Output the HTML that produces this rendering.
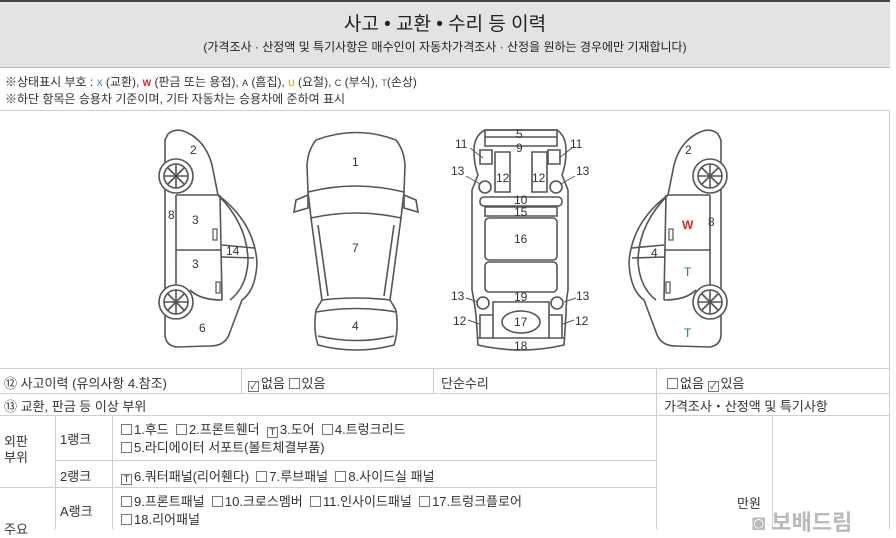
<!DOCTYPE html>
<html><head><meta charset="utf-8"><style>
*{margin:0;padding:0;box-sizing:border-box}
body{width:896px;height:529px;overflow:hidden;background:#fff;font-family:"Liberation Sans","Noto Sans CJK KR",sans-serif;color:#333;position:relative}
.a{position:absolute;white-space:nowrap}
.hl{position:absolute;height:1px;background:#cfcfcf}
.vl{position:absolute;width:1px;background:#cfcfcf}
.cb{display:inline-block;width:11px;height:11px;border:1px solid #777;vertical-align:-1px;margin-right:2px;font-size:9px;line-height:9px;text-align:center;color:#333}
.s{font-size:13px}
</style></head><body>
<div class="a" style="left:0;top:0;width:890px;height:68px;background:#e3e3e3;border-top:2px solid #444;border-bottom:1px solid #bbb"></div>
<div class="a" style="left:0;top:9px;width:890px;text-align:center;font-size:19px;color:#222">사고 • 교환 • 수리 등 이력</div>
<div class="a" style="left:0;top:38px;width:890px;text-align:center;font-size:12px;color:#222">(가격조사 · 산정액 및 특기사항은 매수인이 자동차가격조사 · 산정을 원하는 경우에만 기재합니다)</div>
<div class="a" style="left:5px;top:73px;font-size:12px">※상태표시 부호 : <span style="color:#36c;font-size:9px">X</span> (교환), <span style="color:#d22;font-size:9px;font-weight:bold">W</span> (판금 또는 용접), <span style="font-size:9px">A</span> (흠집), <span style="color:#d80;font-size:9px">U</span> (요철), <span style="font-size:9px">C</span> (부식), <span style="color:#276;font-size:9px">T</span>(손상)</div>
<div class="a" style="left:5px;top:90px;font-size:12px">※하단 항목은 승용차 기준이며, 기타 자동차는 승용차에 준하여 표시</div>
<div class="hl" style="left:0;top:110px;width:890px"></div>

<svg class="a" style="left:0;top:110px" width="896" height="260" viewBox="0 110 896 260" fill="none" stroke="#555" stroke-width="1.6">
<g id="car">
<path d="M168,134 Q176,127 188,133 Q206,142 212,165 L218,195 Q254,222 257,262 Q256,290 242,300 L230,332 Q226,346 210,346 L176,347 Q165,345 165,334 L165,140 Z"/>
<path d="M176,195 L176,292 M176,195 L218,195 M176,250 L222,250 M220,195 L222,300 M218,195 Q248,225 248,262 Q246,288 230,300 M222,245 L254,248 M222,257 L254,258 M222,300 Q200,300 190,290"/>
<circle cx="176" cy="176" r="17" fill="#fff"/><circle cx="176" cy="176" r="12"/>
<path d="M164,176h24M176,164v24M168,168l16,16M184,168l-16,16"/>
<circle cx="176" cy="302" r="17" fill="#fff"/><circle cx="176" cy="302" r="12"/>
<path d="M164,302h24M176,290v24M168,294l16,16M184,294l-16,16"/>
<rect x="213" y="229" width="4" height="11" stroke-width="1.2"/><rect x="216" y="282" width="4" height="11" stroke-width="1.2"/>
</g>
<use href="#car" transform="translate(886,0) scale(-1,1)"/>
<!-- top view -->
<path d="M316,140 Q356,125 396,140 Q404,150 405,165 L404,192 Q356,180 308,192 L307,165 Q308,150 316,140 Z"/>
<path d="M308,192 L311,218 Q356,208 401,218 L404,192"/>
<path d="M311,218 L322,300 Q356,296 390,300 L401,218 M318,225 L328,296 M394,225 L384,296"/>
<path d="M322,300 L316,310 Q313,330 318,345 Q356,355 394,345 Q399,330 396,310 L390,300 M316,312 Q356,305 396,312 M318,336 Q356,345 394,336"/>
<path d="M308,195 L296,200 L294,212 L308,208 Z M404,195 L416,200 L418,212 L404,208 Z"/>
<!-- underside -->
<path d="M485,130 L557,130 Q566,136 566,150 Q566,165 562,175 L568,190 L568,290 Q566,300 566,315 L564,345 Q521,355 478,345 L476,315 Q474,300 472,290 L472,190 L478,175 Q474,165 474,150 Q474,136 485,130 Z"/>
<path d="M485,130h72v7h-72z M485,137h72v9h-72z M480,150h12v14h-12z M548,150h12v14h-12z M495,152h15v40h-15z M532,152h15v40h-15z"/>
<circle cx="485" cy="187" r="6"/><circle cx="556" cy="187" r="6"/>
<rect x="480" y="197" width="82" height="9" rx="4"/><path d="M485,207h72v9h-72z"/>
<rect x="485" y="218" width="72" height="42" rx="4"/><rect x="485" y="262" width="72" height="30" rx="4"/>
<circle cx="483" cy="303" r="6"/><circle cx="557" cy="303" r="6"/>
<path d="M493,302h56v36h-56z M480,315h13v23h-13z M549,315h13v23h-13z M478,338h86"/>
<ellipse cx="521" cy="322" rx="19" ry="11"/>
<g stroke-width="1" stroke="#555"><path d="M470,148l13,10M572,148l-13,10M466,176l14,8M575,176l-14,8M466,298l12,4M576,298l-12,4M468,320l11,4M574,320l-11,4"/></g>
</svg>
<div style="font-size:12px;color:#333">
<span class="a" style="left:190px;top:143px">2</span><span class="a" style="left:168px;top:208px">8</span><span class="a" style="left:192px;top:213px">3</span><span class="a" style="left:192px;top:257px">3</span><span class="a" style="left:226px;top:244px">14</span><span class="a" style="left:199px;top:321px">6</span>
<span class="a" style="left:352px;top:155px">1</span><span class="a" style="left:352px;top:241px">7</span><span class="a" style="left:352px;top:319px">4</span>
<span class="a" style="left:516px;top:127px">5</span><span class="a" style="left:516px;top:141px">9</span><span class="a" style="left:455px;top:137px">11</span><span class="a" style="left:570px;top:137px">11</span><span class="a" style="left:451px;top:164px">13</span><span class="a" style="left:576px;top:164px">13</span><span class="a" style="left:496px;top:171px">12</span><span class="a" style="left:532px;top:171px">12</span><span class="a" style="left:514px;top:193px">10</span><span class="a" style="left:514px;top:205px">15</span><span class="a" style="left:514px;top:232px">16</span><span class="a" style="left:451px;top:289px">13</span><span class="a" style="left:576px;top:289px">13</span><span class="a" style="left:514px;top:290px">19</span><span class="a" style="left:514px;top:315px">17</span><span class="a" style="left:453px;top:314px">12</span><span class="a" style="left:575px;top:314px">12</span><span class="a" style="left:514px;top:339px">18</span>
<span class="a" style="left:685px;top:143px">2</span><span class="a" style="left:708px;top:215px">8</span><span class="a" style="left:651px;top:246px">4</span>
<span class="a" style="left:682px;top:218px;color:#d22;font-weight:bold">W</span><span class="a" style="left:684px;top:265px;color:#276">T</span><span class="a" style="left:684px;top:326px;color:#276">T</span>
</div>

<div class="hl" style="left:0;top:368px;width:890px"></div>
<div class="hl" style="left:0;top:393px;width:890px"></div>
<div class="hl" style="left:0;top:415px;width:890px"></div>
<div class="hl" style="left:55px;top:460px;width:601px"></div>
<div class="hl" style="left:0;top:487px;width:656px"></div>
<div class="vl" style="left:241px;top:368px;height:25px"></div>
<div class="vl" style="left:433px;top:368px;height:25px"></div>
<div class="vl" style="left:656px;top:368px;height:161px"></div>
<div class="vl" style="left:55px;top:415px;height:114px"></div>
<div class="vl" style="left:112px;top:415px;height:114px"></div>
<div class="vl" style="left:772px;top:415px;height:114px"></div>
<div class="vl" style="left:889px;top:110px;height:419px"></div>

<div class="a s" style="left:4px;top:373px">⑫ 사고이력 (유의사항 4.참조)</div>
<div class="a s" style="left:248px;top:373px"><span class="cb">✓</span>없음 <span class="cb"></span>있음</div>
<div class="a s" style="left:441px;top:373px">단순수리</div>
<div class="a s" style="left:667px;top:373px"><span class="cb"></span>없음 <span class="cb">✓</span>있음</div>
<div class="a s" style="left:4px;top:396px">⑬ 교환, 판금 등 이상 부위</div>
<div class="a s" style="left:664px;top:396px">가격조사・산정액 및 특기사항</div>
<div class="a s" style="left:4px;top:434px;line-height:16px">외판<br>부위</div>
<div class="a s" style="left:60px;top:429px">1랭크</div>
<div class="a s" style="left:121px;top:421px;line-height:18px"><span class="cb"></span>1.후드 &nbsp;<span class="cb"></span>2.프론트휀더 &nbsp;<span class="cb">T</span>3.도어 &nbsp;<span class="cb"></span>4.트렁크리드<br><span class="cb"></span>5.라디에이터 서포트(볼트체결부품)</div>
<div class="a s" style="left:60px;top:466px">2랭크</div>
<div class="a s" style="left:121px;top:466px"><span class="cb">T</span>6.쿼터패널(리어휀다) &nbsp;<span class="cb"></span>7.루브패널 &nbsp;<span class="cb"></span>8.사이드실 패널</div>
<div class="a s" style="left:60px;top:501px">A랭크</div>
<div class="a s" style="left:121px;top:493px;line-height:18px"><span class="cb"></span>9.프론트패널 &nbsp;<span class="cb"></span>10.크로스멤버 &nbsp;<span class="cb"></span>11.인사이드패널 &nbsp;<span class="cb"></span>17.트렁크플로어<br><span class="cb"></span>18.리어패널</div>
<div class="a s" style="left:4px;top:519px">주요</div>
<div class="a s" style="left:737px;top:493px">만원</div>
<div class="a" style="left:752px;top:505px;font-size:22px;font-weight:bold;color:#aaa;opacity:.8">◙ 보배드림</div>
</body></html>
